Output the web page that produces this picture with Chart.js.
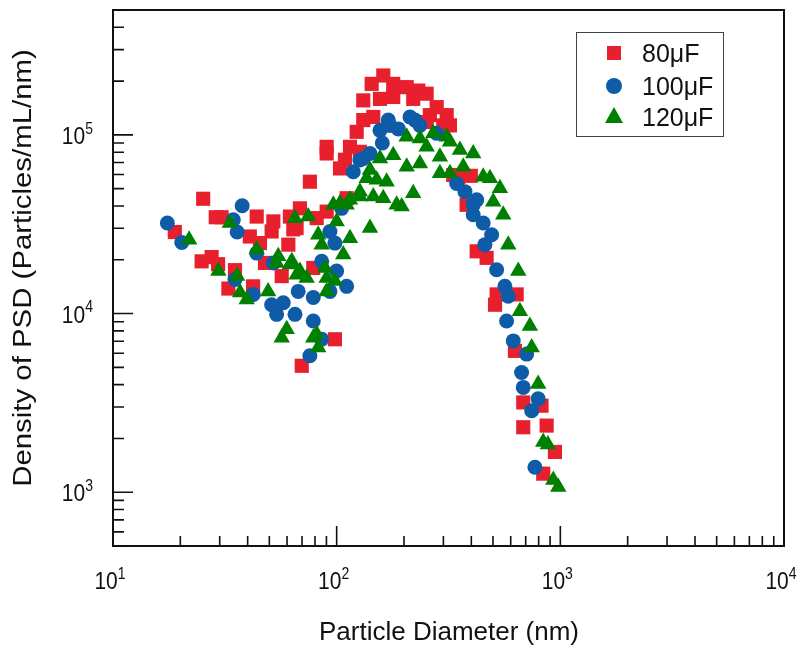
<!DOCTYPE html>
<html><head><meta charset="utf-8">
<script src="https://cdn.jsdelivr.net/npm/chart.js@4.4.0/dist/chart.umd.min.js"></script>
<style>html,body{margin:0;padding:0;background:#fff;}</style>
</head><body>
<canvas id="c" width="803" height="648"></canvas>
<script>
// ---- data (particle diameter in nm, PSD density) ----
const seriesNames = ['80\u03bcF', '100\u03bcF', '120\u03bcF'];
const diam80 = [25.3,28.8,30.6,18.9,24.9,27.6,29.5,35.1,32.8,42.3,43.9,40.9,52.1,51.2,45.4,47.8,60.8,61.8,56.8,64.0,69.8,68.5,90.2,90.2,75.9,103.5,122.9,127,90.2,81.4,66.2,98.2,78.6,110.8,
  161.6,143.4,179,205.6,231.7,252.5,131.5,156.2,179,219.9,280,310.4,321,261,131.5,145.8,114.7,108.9,252.5,
  299.6,332,381,398,350,422.6,468.3,519,638,510.5,626.6,682.6,824,682.6,868.5,946,838.6];
const psd80 = [4.39e4,3.46e4,3.46e4,2.86e4,1.96e4,2.07e4,1.89e4,1.75e4,1.38e4,1.42e4,3.49e4,2.70e4,3.28e4,2.88e4,2.48e4,1.92e4,2.43e4,3.49e4,1.62e4,2.96e4,5.10e3,3.88e4,8.57e4,7.87e4,5.47e4,6.49e4,1.04e5,8.04e4,3.72e4,3.42e4,3.01e4,7.18e3,1.80e4,4.42e4,
  2.15e5,1.93e5,1.93e5,1.85e5,1.77e5,1.70e5,1.56e5,1.59e5,1.63e5,1.59e5,1.43e5,1.29e5,1.13e5,1.29e5,1.21e5,1.26e5,8.57e4,7.26e4,1.18e5,
  1.13e5,5.96e4,4.06e4,5.9e4,5.8e4,2.23e4,2.05e4,1.28e4,1.28e4,1.12e4,6.18e3,3.18e3,3.05e3,2.31e3,2.36e3,1.68e3,1.27e3];

const diam100 = [17.5,20.3,37.8,34.5,35.9,35.1,42.4,43.9,52.1,51.2,57.7,53.9,65.1,67.3,78.6,78.6,85.7,75.9,110.8,100,93.3,85.7,98.2,93.3,118.6,131.5,156.2,173,105.2,
  170.1,212.7,224,235.6,188.6,127,140.9,160,280,343.9,374.6,422.6,407.8,407.8,452,493,460,519,565,585,575,616,707,671,682.6,796,744.5,770];
const psd100 = [3.21e4,2.50e4,4.01e4,3.35e4,2.86e4,1.55e4,1.28e4,2.18e4,1.92e4,1.12e4,1.15e4,9.9e3,9.9e3,1.33e4,1.23e4,9.08e3,7.18e3,5.8e3,1.42e4,1.73e4,1.33e4,1.96e4,2.48e4,2.88e4,6.22e4,7.38e4,1.06e5,1.13e5,3.88e4,
  1.21e5,1.26e5,1.21e5,1.13e5,1.08e5,7.23e4,7.87e4,9.0e4,1.02e5,5.35e4,4.81e4,4.33e4,4.06e4,3.57e4,3.21e4,2.76e4,2.43e4,1.76e4,1.42e4,1.25e4,9.08e3,7.03e3,5.93e3,4.68e3,3.86e3,3.33e3,2.86e3,1.38e3];

const diam120 = [21.9,33.3,29.6,35.9,37.0,39.6,43.9,49.4,54.8,53.9,63.0,65.1,59.8,56.8,66.2,74.6,61.8,68.5,73.4,82.7,85.7,96.6,103.5,110.8,100,114.7,107,88.7,90.2,98.2,90.2,140.9,127,136.2,156.2,179,185.4,78.6,82.7,81.4,
  205.6,235.6,270.4,310.4,252.5,355.6,407.8,140.9,151,167.3,219.9,195.3,289.5,321,368,452,205.6,235.6,127,114.7,145.8,161.6,289.5,321,
  484.6,537,501,555.6,585,648.6,659.5,731,744.5,796,838.6,880,979,930];
const psd120 = [2.59e4,3.21e4,1.73e4,1.62e4,1.31e4,1.20e4,2.28e4,1.33e4,2.09e4,1.92e4,1.96e4,3.42e4,8.17e3,7.33e3,1.65e4,3.49e4,1.88e4,1.73e4,1.58e4,2.76e4,2.43e4,4.06e4,4.14e4,4.06e4,3.28e4,2.64e4,2.14e4,1.80e4,1.58e4,1.52e4,1.33e4,3.01e4,4.81e4,5.71e4,7.38e4,7.7e4,4.06e4,7.33e3,6.45e3,7.69e3,
  9.75e4,9.54e4,1.02e5,9.75e4,8.57e4,8.22e4,7.87e4,6.36e4,5.6e4,5.47e4,4.71e4,3.97e4,6.09e4,6.09e4,6.64e4,5.83e4,6.64e4,6.92e4,4.52e4,4.33e4,4.52e4,4.42e4,7.54e4,9.14e4,
  5.71e4,5.02e4,4.23e4,3.57e4,2.43e4,1.73e4,1.03e4,8.52e3,6.45e3,4.03e3,1.91e3,1.85e3,1.07e3,1.17e3];

const xTickExps = [1, 2, 3, 4];
const yTickExps = [3, 4, 5];
const xTitle = 'Particle Diameter (nm)';
const yTitle = 'Density of PSD (Particles/mL/nm)';

const colors = ['#E8202E', '#0E5CA8', '#008000'];
const styles = ['rect', 'circle', 'triangle'];
const radii = [10, 7.5, 9.5];

function pts(xs, ys) { return xs.map((v, i) => ({ x: v, y: ys[i] })); }
const allX = [diam80, diam100, diam120];
const allY = [psd80, psd100, psd120];

const datasets = seriesNames.map((n, i) => ({
  label: n,
  data: pts(allX[i], allY[i]),
  pointStyle: styles[i],
  pointRadius: radii[i],
  pointHoverRadius: radii[i],
  backgroundColor: colors[i],
  borderColor: colors[i],
  borderWidth: 0,
  order: 3 - i
}));

const FONT = "'Liberation Sans', Arial, sans-serif";

function drawPow(ctx, exp, x, y, align) {
  ctx.font = '21px ' + FONT;
  const w1 = ctx.measureText('10').width;
  ctx.font = '14px ' + FONT;
  const w2 = ctx.measureText(String(exp)).width;
  let sx;
  if (align === 'center') sx = x - (w1 + w2) / 2 - 3;
  else sx = x - (w1 + w2);
  ctx.save();
  ctx.translate(sx, y);
  ctx.scale(1, 1.15);
  ctx.textAlign = 'left';
  ctx.textBaseline = 'alphabetic';
  ctx.font = '21px ' + FONT;
  ctx.fillText('10', 0, 0);
  ctx.font = '14px ' + FONT;
  ctx.fillText(String(exp), w1, -9);
  ctx.restore();
}

const framePlugin = {
  id: 'frame',
  afterDraw(chart) {
    const { ctx, chartArea: a, scales: { x, y } } = chart;
    ctx.save();
    ctx.strokeStyle = '#111';
    ctx.fillStyle = '#111';
    ctx.lineWidth = 2;
    ctx.strokeRect(a.left, a.top, a.right - a.left, a.bottom - a.top);
    ctx.lineWidth = 1.6;
    ctx.beginPath();
    for (let k = 1; k <= 4; k++) for (let m = 1; m < 10; m++) {
      const v = m * Math.pow(10, k);
      if (v < x.min || v > x.max) continue;
      const px = x.getPixelForValue(v);
      const len = m === 1 ? 20 : 10;
      ctx.moveTo(px, a.bottom); ctx.lineTo(px, a.bottom - len);
    }
    for (let k = 2; k <= 5; k++) for (let m = 1; m < 10; m++) {
      const v = m * Math.pow(10, k);
      if (v < y.min || v > y.max) continue;
      const py = y.getPixelForValue(v);
      const len = m === 1 ? 20 : 11;
      ctx.moveTo(a.left, py); ctx.lineTo(a.left + len, py);
    }
    ctx.stroke();
    // tick labels
    xTickExps.forEach(e => drawPow(ctx, e, x.getPixelForValue(Math.pow(10, e)), 589, 'center'));
    yTickExps.forEach(e => drawPow(ctx, e, a.left - 20, y.getPixelForValue(Math.pow(10, e)) + 9, 'right'));
    // titles
    ctx.font = '26px ' + FONT;
    ctx.textAlign = 'center';
    ctx.textBaseline = 'alphabetic';
    ctx.fillText(xTitle, 449, 640);
    ctx.save();
    ctx.translate(31, 268);
    ctx.rotate(-Math.PI / 2);
    ctx.scale(1.13, 1);
    ctx.fillText(yTitle, 0, 0);
    ctx.restore();
    // legend
    ctx.lineWidth = 1;
    ctx.strokeStyle = '#444';
    ctx.strokeRect(576.5, 32.5, 147, 104);
    const ly = [53, 86, 117];
    ctx.font = '25px ' + FONT;
    ctx.textAlign = 'left';
    seriesNames.forEach((n, i) => {
      const cx = 614, cy = ly[i];
      ctx.fillStyle = colors[i];
      ctx.beginPath();
      if (i === 0) { ctx.rect(cx - 7, cy - 7, 14, 14); }
      else if (i === 1) { ctx.arc(cx, cy, 8, 0, Math.PI * 2); }
      else { ctx.moveTo(cx, cy - 10); ctx.lineTo(cx + 9, cy + 6); ctx.lineTo(cx - 9, cy + 6); ctx.closePath(); }
      ctx.fill();
      ctx.fillStyle = '#111';
      ctx.fillText(n, 642, cy + 9);
    });
    ctx.restore();
  }
};

new Chart(document.getElementById('c'), {
  type: 'scatter',
  data: { datasets },
  options: {
    responsive: false,
    animation: false,
    devicePixelRatio: 1,
    layout: { padding: { left: 0, top: 7, right: 19, bottom: 0 } },
    plugins: { legend: { display: false }, tooltip: { enabled: false } },
    scales: {
      x: { type: 'logarithmic', min: 10, max: 10000,
           ticks: { display: false }, grid: { display: false }, border: { display: false },
           afterFit(s) { s.height = 102; } },
      y: { type: 'logarithmic', min: 500, max: 500000,
           ticks: { display: false }, grid: { display: false }, border: { display: false },
           afterFit(s) { s.width = 113; } }
    }
  },
  plugins: [framePlugin]
});
</script>
</body></html>
